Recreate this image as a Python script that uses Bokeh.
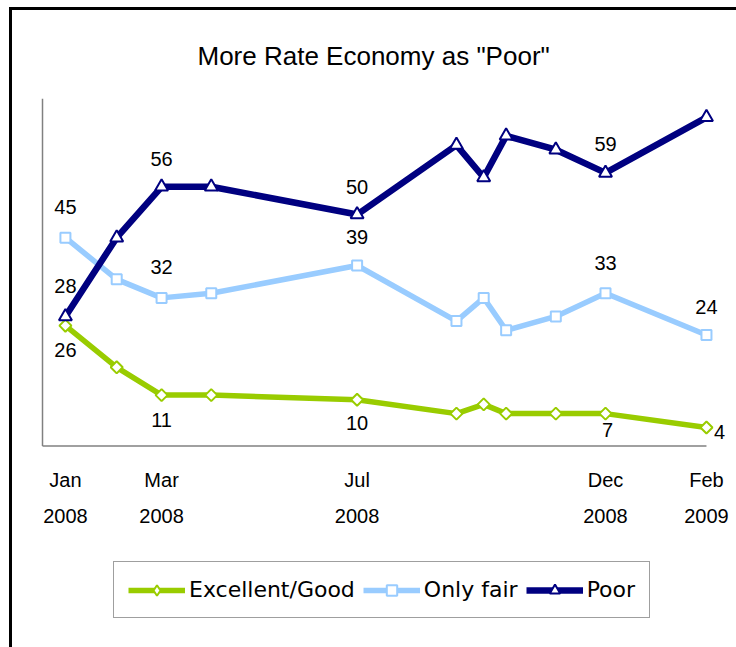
import math
import pandas as pd
from bokeh.plotting import figure
from bokeh.layouts import column
from bokeh.core.properties import value
from bokeh.models import (Range1d, LinearAxis, FixedTicker, ColumnDataSource,
                          LabelSet, Legend, LegendItem)
from bokeh.embed import file_html
from bokeh.resources import INLINE

# ---- data ----
dates = ["2008-01-10", "2008-02-11", "2008-03-10", "2008-04-10", "2008-07-10",
         "2008-09-10", "2008-09-27", "2008-10-11", "2008-11-11", "2008-12-12",
         "2009-02-13"]
excellent_good = [26, 17, 11, 11, 10, 7, 9, 7, 7, 7, 4]
only_fair = [45, 36, 32, 33, 39, 27, 32, 25, 28, 33, 24]
poor = [28, 45, 56, 56, 50, 65, 58, 67, 64, 59, 71]
tick_idx = [0, 2, 4, 9, 10]
tick_months = ["Jan", "Mar", "Jul", "Dec", "Feb"]
tick_years = ["2008", "2008", "2008", "2008", "2009"]
labelled_idx = [0, 2, 4, 9, 10]
series_names = ["Excellent/Good", "Only fair", "Poor"]
title_text = 'More Rate Economy as "Poor"'

t0 = pd.Timestamp(dates[0])
x = [(pd.Timestamp(d) - t0).days for d in dates]

GREEN = "#99CC00"
LBLUE = "#99CCFF"
NAVY = "#000080"
LABEL_FONT = "Liberation Sans"

p = figure(frame_width=688, frame_height=353, output_backend="svg",
           toolbar_location=None,
           x_range=Range1d(-16.8, 412.5), y_range=Range1d(-0.75, 75.5),
           min_border_left=26, min_border_right=10, min_border_top=86,
           min_border_bottom=100)
p.outline_line_color = None
p.grid.visible = False
p.yaxis.visible = False
p.background_fill_color = "white"

p.title.text = title_text
p.title.align = "left"
p.title.offset = 159
p.title.text_font = LABEL_FONT
p.title.text_font_size = "26px"
p.title.text_font_style = "normal"
p.title.text_color = "black"
p.title.standoff = 51

# axis lines drawn as segments (so markers at range ends are not clipped)
x_axis_start = -14.3
y_axis_top = 75
p.segment(x0=[x_axis_start, x_axis_start], y0=[0, 0], x1=[x[-1], x_axis_start],
          y1=[0, y_axis_top], line_color="#808080", line_width=1.5)

# x axes: months and years
ticks = [x[i] for i in tick_idx]
ax = p.xaxis[0]
ax.ticker = FixedTicker(ticks=ticks)
ax.major_label_overrides = {t: m for t, m in zip(ticks, tick_months)}
ax2 = LinearAxis(ticker=FixedTicker(ticks=ticks),
                 major_label_overrides={t: y for t, y in zip(ticks, tick_years)})
p.add_layout(ax2, "below")
for a, st in ((ax, 19), (ax2, 15)):
    a.axis_line_color = None
    a.major_tick_line_color = None
    a.minor_tick_line_color = None
    a.major_tick_out = 0
    a.major_tick_in = 0
    a.minor_tick_out = 0
    a.minor_tick_in = 0
    a.major_label_standoff = st
    a.major_label_text_font = LABEL_FONT
    a.major_label_text_font_size = "20px"
    a.major_label_text_color = "black"

# series: values, colour, line width, marker, size, angle, legend marker
specs = [
    (excellent_good, GREEN, 5.5, "square", 8.5, math.pi / 4, "diamond"),
    (only_fair, LBLUE, 5.5, "square", 10, 0, "square"),
    (poor, NAVY, 6.5, "triangle", 13, 0, "triangle"),
]
for vals, col, lw, mk, ms, ang, _ in specs:
    src = ColumnDataSource(dict(x=x, y=vals))
    p.line("x", "y", source=src, line_color=col, line_width=lw)
    p.scatter("x", "y", source=src, marker=mk, size=ms, angle=ang,
              fill_color="white", line_color=col, line_width=2)

# value labels
def add_labels(vals, xoffs, yoffs):
    src = ColumnDataSource(dict(
        x=[x[i] for i in labelled_idx],
        y=[vals[i] for i in labelled_idx],
        t=[str(vals[i]) for i in labelled_idx],
        xo=xoffs, yo=yoffs))
    p.add_layout(LabelSet(x="x", y="y", text="t", source=src, x_offset="xo",
                          y_offset="yo", text_align="center",
                          text_baseline="middle", text_font=value(LABEL_FONT),
                          text_font_size="20px", text_color="black"))

add_labels(poor, [0, 0, 0, 0, 0], [30, 28, 28, 29, 28])
add_labels(only_fair, [0, 0, 0, 0, 0], [31, 31, 28, 30, 28])
add_labels(excellent_good, [0, 0, 0, 2, 13], [-24, -25, -23, -16, -4])

# legend in its own strip below the chart (legend-only sample glyphs)
pl = figure(width=724, height=98, output_backend="svg", toolbar_location=None,
            x_range=Range1d(0, 1), y_range=Range1d(0, 1),
            x_axis_type=None, y_axis_type=None, min_border=0)
pl.outline_line_color = None
pl.grid.visible = False
items = []
nan = float("nan")
for name, (vals, col, lw, mk, ms, ang, lmk) in zip(series_names, specs):
    sample = ColumnDataSource(dict(x=[nan], y=[nan]))
    ln = pl.line("x", "y", source=sample, line_color=col, line_width=lw)
    sc = pl.scatter("x", "y", source=sample, marker=lmk,
                    fill_color="white", line_color=col, line_width=2)
    items.append(LegendItem(label=name, renderers=[ln, sc]))

legend = Legend(items=items, orientation="horizontal", location=(75, 29),
                glyph_width=57, glyph_height=26, label_height=27,
                label_standoff=4, spacing=8, padding=14, margin=0,
                border_line_color="#404040", border_line_width=1,
                label_text_font="DejaVu Sans", label_text_font_size="22px",
                label_text_color="black")
pl.add_layout(legend)

layout = column(p, pl, spacing=0)
layout.styles = {"border-top": "3px solid black", "border-left": "3px solid black",
                 "margin-left": "9px", "margin-top": "7px"}

open("out.html", "w").write(file_html(layout, INLINE))
